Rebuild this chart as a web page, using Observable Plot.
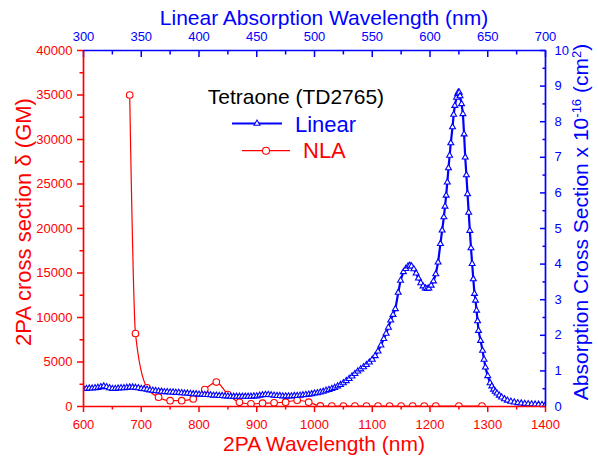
<!DOCTYPE html>
<html>
<head>
<meta charset="utf-8">
<script src="https://cdn.jsdelivr.net/npm/d3@7"></script>
<script src="https://cdn.jsdelivr.net/npm/@observablehq/plot@0.6"></script>
<style>
  body { margin: 0; background: #fff; }
  #chart svg { display: block; }
</style>
</head>
<body>
<div id="chart"></div>
<script>
// ---------- DATA ----------
// Linear absorption: wavelength (nm, top axis) and cross section (x 10^-16 cm^2, right axis)
const linearWavelength = [
  300, 302.5, 305, 307.5, 310, 312.5, 315, 317.5, 320, 322.5, 325, 327.5, 330, 332.5, 335, 337.5, 340, 342.5, 345, 347.5,
  350, 352.5, 355, 357.5, 360, 362.5, 365, 367.5, 370, 372.5, 375, 377.5, 380, 382.5, 385, 387.5, 390, 392.5, 395, 397.5,
  400, 402.5, 405, 407.5, 410, 412.5, 415, 417.5, 420, 422.5, 425, 427.5, 430, 432.5, 435, 437.5, 440, 442.5, 445, 447.5,
  450, 452.5, 455, 457.5, 460, 462.5, 465, 467.5, 470, 472.5, 475, 477.5, 480, 482.5, 485, 487.5, 490, 492.5, 495, 497.5,
  500, 502.5, 505, 507.5, 510, 512.5, 515, 517.5, 520, 522.5, 525, 527.5, 530, 532.5, 535, 537.5, 540, 542.5, 545, 547.5,
  550, 552.5, 555, 557.5, 560, 562, 564, 566, 568, 570, 572.5, 574.5,
  577, 579, 581, 582.5, 584, 586, 588, 590, 592, 594, 596, 597.5, 599, 601, 603, 605, 607, 609,
  610.5, 612, 613, 614, 615, 616, 617, 618, 619.5, 620.5, 621.5, 623, 624, 624.5, 625.3, 626, 627.3, 628.5,
  629.5, 630.5, 631.5, 632.5, 633.5, 634.5, 635.5, 636.5, 637.5, 638.5, 639.4, 640.3, 641.2, 642, 643.8, 645.5,
  646.8, 648, 650, 652, 653.5, 655, 656.5, 658, 660, 662, 664.5, 667, 670, 673, 676, 679, 682, 685, 688, 691, 694, 697, 700
];
const linearCrossSection = [
  0.50, 0.50, 0.51, 0.51, 0.52, 0.53, 0.55, 0.57, 0.55, 0.52, 0.50, 0.50, 0.51, 0.52, 0.52, 0.53, 0.54, 0.54, 0.53, 0.52,
  0.50, 0.49, 0.48, 0.46, 0.45, 0.44, 0.43, 0.42, 0.41, 0.41, 0.40, 0.40, 0.39, 0.39, 0.38, 0.37, 0.37, 0.36, 0.35, 0.35,
  0.34, 0.34, 0.33, 0.33, 0.32, 0.31, 0.31, 0.30, 0.30, 0.29, 0.29, 0.28, 0.28, 0.28, 0.28, 0.28, 0.28, 0.28, 0.28, 0.29,
  0.29, 0.31, 0.32, 0.33, 0.33, 0.32, 0.31, 0.30, 0.30, 0.29, 0.29, 0.29, 0.29, 0.30, 0.30, 0.31, 0.32, 0.33, 0.34, 0.35,
  0.37, 0.38, 0.40, 0.42, 0.45, 0.47, 0.50, 0.53, 0.57, 0.61, 0.66, 0.72, 0.78, 0.85, 0.92, 0.99, 1.05, 1.11, 1.17, 1.24,
  1.32, 1.42, 1.55, 1.72, 1.90, 2.05, 2.22, 2.42, 2.58, 2.74, 3.20, 3.54,
  3.78, 3.87, 3.94, 3.96, 3.94, 3.86, 3.74, 3.60, 3.47, 3.38, 3.32, 3.31, 3.32, 3.40, 3.52, 3.72, 4.05, 4.57,
  4.95, 5.32, 5.62, 5.93, 6.30, 6.70, 7.05, 7.40, 7.85, 8.20, 8.45, 8.68, 8.78, 8.83, 8.82, 8.72, 8.50, 8.22,
  7.65, 7.00, 6.50, 5.97, 5.45, 4.94, 4.45, 4.01, 3.58, 3.17, 2.98, 2.70, 2.40, 2.13, 1.85, 1.57,
  1.32, 1.10, 0.86, 0.66, 0.57, 0.48, 0.42, 0.37, 0.31, 0.26, 0.21, 0.17, 0.14, 0.12, 0.10, 0.09, 0.08, 0.07, 0.065, 0.06, 0.055, 0.05, 0.05
];
// Two-photon absorption (NLA): wavelength (nm, bottom axis) and cross section (GM, left axis)
const nlaWavelength = [
  680, 690, 710, 730, 750, 770, 790, 810, 830, 850, 870, 890, 910, 930, 950, 970, 990,
  1010, 1030, 1050, 1070, 1090, 1110, 1130, 1150, 1170, 1190, 1210, 1250, 1290
];
const nlaCrossSection = [
  35000, 8200, 2100, 1050, 650, 650, 850, 1900, 2750, 1350, 480, 300, 370, 410, 490, 700, 490,
  70, 50, 50, 50, 50, 50, 50, 50, 50, 50, 50, 50, 50
];
// Tick labels
const bottomTickLabels = [600, 700, 800, 900, 1000, 1100, 1200, 1300, 1400];
const topTickLabels = [300, 350, 400, 450, 500, 550, 600, 650, 700];
const leftTickLabels = [0, 5000, 10000, 15000, 20000, 25000, 30000, 35000, 40000];
const rightTickLabels = [0, 1, 2, 3, 4, 5, 6, 7, 8, 9, 10];

// ---------- SETUP ----------
const RED = "#ff0000", BLUE = "#0000ff";
const FONT = "'Liberation Sans', Arial, Helvetica, sans-serif";
const W = 598, H = 456;
const xDomain = [600, 1400], yDomain = [0, 40000];
const rightMax = 10;
const gmPerUnit = yDomain[1] / rightMax;   // right axis 0..10 shares left scale 0..40000
const nmFactor = 2;                         // linear wavelength = 2PA wavelength / 2

const linear = linearWavelength.map((w, i) => ({x: w * nmFactor, y: linearCrossSection[i] * gmPerUnit}));
const nla = nlaWavelength.map((w, i) => ({x: w, y: nlaCrossSection[i]}));

const bottomMinor = bottomTickLabels.slice(0, -1).map(d => d + 50);
const topMajor = topTickLabels.map(d => d * nmFactor);
const topMinor = topMajor.slice(0, -1).map(d => d + 50);
const leftMinor = leftTickLabels.slice(0, -1).map(d => d + 2500);
const rightMajor = rightTickLabels.map(d => d * gmPerUnit);
const rightMinor = rightMajor.slice(0, -1).map(d => d + gmPerUnit / 2);

const MAJ = 6, MIN = 3.5, TW = 1.5;

const plot = Plot.plot({
  width: W, height: H,
  marginLeft: 83, marginRight: 53, marginTop: 50, marginBottom: 50,
  style: {fontFamily: FONT, background: "white", overflow: "visible"},
  x: {domain: xDomain, axis: null, label: null},
  y: {domain: yDomain, axis: null, label: null},
  marks: [
    // NLA series
    Plot.line(nla, {x: "x", y: "y", stroke: RED, strokeWidth: 1.2, curve: "monotone-x", clip: true}),
    Plot.dot(nla, {x: "x", y: "y", r: 3.3, stroke: RED, fill: "white", strokeWidth: 1.1, clip: true}),
    // Linear series
    Plot.line(linear, {x: "x", y: "y", stroke: BLUE, strokeWidth: 2.2, clip: true}),
    Plot.dot(linear, {x: "x", y: "y", symbol: "triangle", r: 2.2, stroke: BLUE, fill: "white", strokeWidth: 1.1, clip: true}),

    // bottom axis (red, outward ticks)
    Plot.axisX(bottomTickLabels, {anchor: "bottom", tickSize: MAJ, tickPadding: 7, stroke: RED, fill: RED, strokeWidth: TW, fontSize: 13, tickFormat: d => `${d}`, label: null}),
    Plot.axisX(bottomMinor, {anchor: "bottom", tickSize: MIN, stroke: RED, strokeWidth: TW, tickFormat: () => "", label: null}),
    // top axis (blue, inward ticks)
    Plot.axisX(topMajor, {anchor: "top", tickSize: MAJ, dy: MAJ, stroke: BLUE, strokeWidth: TW, tickFormat: () => "", label: null}),
    Plot.axisX(topMinor, {anchor: "top", tickSize: MIN, dy: MIN, stroke: BLUE, strokeWidth: TW, tickFormat: () => "", label: null}),
    Plot.axisX(topMajor, {anchor: "top", tickSize: 0, tickPadding: 10, fill: BLUE, fontSize: 13, tickFormat: d => `${d / nmFactor}`, label: null}),
    // left axis (red, outward ticks)
    Plot.axisY(leftTickLabels, {anchor: "left", tickSize: MAJ, tickPadding: 5, stroke: RED, fill: RED, strokeWidth: TW, fontSize: 13, tickFormat: d => `${d}`, label: null}),
    Plot.axisY(leftMinor, {anchor: "left", tickSize: MIN, stroke: RED, strokeWidth: TW, tickFormat: () => "", label: null}),
    // right axis (blue, inward ticks)
    Plot.axisY(rightMajor, {anchor: "right", tickSize: MAJ, dx: -MAJ, stroke: BLUE, strokeWidth: TW, tickFormat: () => "", label: null}),
    Plot.axisY(rightMinor, {anchor: "right", tickSize: MIN, dx: -MIN, stroke: BLUE, strokeWidth: TW, tickFormat: () => "", label: null}),
    Plot.axisY(rightMajor, {anchor: "right", tickSize: 0, tickPadding: 9, fill: BLUE, fontSize: 13, tickFormat: d => `${d / gmPerUnit}`, label: null}),

    // frame lines
    Plot.ruleX([xDomain[0]], {stroke: RED, strokeWidth: 1.7}),
    Plot.ruleY([yDomain[0]], {stroke: RED, strokeWidth: 1.7}),
    Plot.ruleY([yDomain[1]], {stroke: BLUE, strokeWidth: 1.7}),
    Plot.ruleX([xDomain[1]], {stroke: BLUE, strokeWidth: 1.7})
  ]
});
document.getElementById("chart").appendChild(plot);

// ---------- TITLES & LEGEND ----------
const svg = d3.select(plot);
const g = svg.append("g").attr("font-family", FONT);

// axis titles
g.append("text").attr("x", 324).attr("y", 25).attr("text-anchor", "middle")
  .attr("font-size", 21).attr("fill", BLUE).text("Linear Absorption Wavelength (nm)");
g.append("text").attr("x", 324).attr("y", 451).attr("text-anchor", "middle")
  .attr("font-size", 21).attr("fill", RED).text("2PA Wavelength (nm)");
g.append("text").attr("transform", "translate(31,222) rotate(-90)").attr("text-anchor", "middle")
  .attr("font-size", 22).attr("fill", RED).text("2PA cross section δ (GM)");
const rt = g.append("text").attr("transform", "translate(588,222) rotate(-90)").attr("text-anchor", "middle")
  .attr("font-size", 21).attr("fill", BLUE);
rt.append("tspan").text("Absorption Cross Section x 10");
rt.append("tspan").attr("baseline-shift", "super").attr("font-size", 13).text("-16");
rt.append("tspan").text(" (cm");
rt.append("tspan").attr("baseline-shift", "super").attr("font-size", 13).text("2");
rt.append("tspan").text(")");

// legend
g.append("text").attr("x", 296).attr("y", 104).attr("text-anchor", "middle")
  .attr("font-size", 21).attr("fill", "black").text("Tetraone (TD2765)");
g.append("line").attr("x1", 232).attr("x2", 282).attr("y1", 123.5).attr("y2", 123.5)
  .attr("stroke", BLUE).attr("stroke-width", 2);
g.append("path").attr("transform", "translate(257,123.5)")
  .attr("d", d3.symbol(d3.symbolTriangle, Math.PI * 2.2 * 2.2)())
  .attr("fill", "white").attr("stroke", BLUE).attr("stroke-width", 1.1);
g.append("text").attr("x", 295).attr("y", 131.5).attr("text-anchor", "start")
  .attr("font-size", 22).attr("fill", BLUE).text("Linear");
g.append("line").attr("x1", 242).attr("x2", 290).attr("y1", 150.7).attr("y2", 150.7)
  .attr("stroke", RED).attr("stroke-width", 1.2);
g.append("circle").attr("cx", 266).attr("cy", 150.7).attr("r", 3.5)
  .attr("fill", "white").attr("stroke", RED).attr("stroke-width", 1.1);
g.append("text").attr("x", 303).attr("y", 158.3).attr("text-anchor", "start")
  .attr("font-size", 22).attr("fill", RED).text("NLA");
</script>
</body>
</html>
